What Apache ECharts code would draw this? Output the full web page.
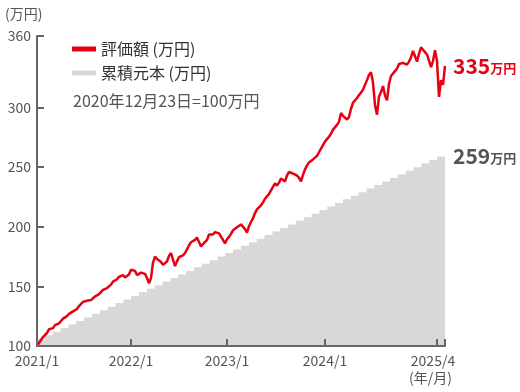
<!DOCTYPE html>
<html><head><meta charset="utf-8">
<script src="https://cdn.jsdelivr.net/npm/echarts@6/dist/echarts.min.js"></script>
<style>html,body{margin:0;padding:0;background:#fff}#c{width:520px;height:392px}</style>
</head><body><div id="c"></div>
<script>
// 評価額 (万円) — sampled along the x axis, index 0 = 2021/1 start, last index = 2025/4 end
const valuation = [
100,102.5,105,107.5,107,111,114,113,115,117.5,
116.5,119,121,123,122.5,125,127,126.5,129,130.5,
131,133.5,134,137,136,138,139.5,138.5,140,141.5,
140.5,143.5,145,147,146,148.5,148,151.5,154,155.5,
156,158,158.5,159.5,157.5,157,160,164,165.5,163,
159.5,160,161.5,162.5,160.5,157,152.5,157,170,175,
173,172.5,170.5,168,167,171,175.5,178,178.5,167,
171,174.5,175.5,176,178,181,184.5,187,186.5,189,
191,189.5,183.5,185.5,186.5,189,193.5,194.5,193.5,195.5,
196,194.5,193.5,189,186,189.5,191.5,194,197,198.5,
199.5,201,202,203,198,195,200.5,204,207,211.5,
214.5,215.5,218,220.5,223.5,225.5,227.5,230.5,233.5,236.5,
234.5,237,240.5,239,238,243,246,245.5,244.5,245.5,
243,241,238,243.5,248,251.5,254,255,256.5,257.5,
259.5,262.5,265.5,268.5,271.5,273.5,275.5,278,281.5,283,
285.5,288,295.5,293,291.5,290,292,299,304,306,
308,310.5,312.5,315,319,323,327.5,329.5,321,302,
294,309,313,318,310,306,320,326.5,328,330.5,
332.5,336.5,336,337.5,338.5,336,338.5,342,347.5,343,
338.5,345,350.5,349,346.5,344.5,345.5,334,339,348,
339,309,323,319,335
];
// 累積元本 (万円) — monthly, 2020/12 … 2025/4
const principal = [
103,106,109,112,115,118,121,124,127,130,
133,136,139,142,145,148,151,154,157,160,
163,166,169,172,175,178,181,184,187,190,
193,196,199,202,205,208,211,214,217,220,
223,226,229,232,235,238,241,244,247,250,
253,256,259
];
const principalMonths = ['2020/12','2021/1','2021/2','2021/3','2021/4','2021/5','2021/6','2021/7','2021/8','2021/9','2021/10','2021/11','2021/12',
'2022/1','2022/2','2022/3','2022/4','2022/5','2022/6','2022/7','2022/8','2022/9','2022/10','2022/11','2022/12',
'2023/1','2023/2','2023/3','2023/4','2023/5','2023/6','2023/7','2023/8','2023/9','2023/10','2023/11','2023/12',
'2024/1','2024/2','2024/3','2024/4','2024/5','2024/6','2024/7','2024/8','2024/9','2024/10','2024/11','2024/12',
'2025/1','2025/2','2025/3','2025/4'];
const xTickLabels = ['2021/1','2022/1','2023/1','2024/1','2025/4'];
const xLabelIndex = [0,47,95,144,198];
const xTickIndex = [0,47,95,144,200,204];
const yTicks = [100,150,200,250,300,360];
const seriesNames = ['評価額 (万円)','累積元本 (万円)'];

const FONT = "'Noto Sans CJK JP','Noto Sans',sans-serif";
const cats = valuation.map((_, i) => String(i));
const chart = echarts.init(document.getElementById('c'), null, {renderer:'canvas'});
chart.setOption({
  animation:false,
  textStyle:{fontFamily:FONT},
  grid:{left:37, top:36, width:408, height:310},
  legend:{
    orient:'vertical', left:72, top:41, padding:0, itemWidth:24, itemHeight:5, itemGap:8,
    icon:'rect', data:seriesNames,
    textStyle:{fontSize:16, color:'#333', fontFamily:FONT}
  },
  xAxis:[{
    type:'category', data:cats, boundaryGap:false, z:5,
    axisLine:{lineStyle:{color:'#666', width:2}},
    axisTick:{inside:true, length:7, lineStyle:{color:'#666', width:2},
      interval:(i)=>xTickIndex.includes(i)},
    axisLabel:{interval:(i)=>xLabelIndex.includes(i), color:'#555', fontSize:14, margin:8,
      fontFamily:FONT,
      formatter:(v,i)=>{const k=xLabelIndex.indexOf(i);return k>=0?xTickLabels[k]:'';}},
    splitLine:{show:false}
  },{
    type:'category', data:principalMonths, boundaryGap:false, show:false
  }],
  yAxis:{
    type:'value', min:100, max:360, z:5,
    axisLine:{show:true, lineStyle:{color:'#666', width:2}},
    axisTick:{show:true, inside:true, length:7, lineStyle:{color:'#666', width:2}, customValues:yTicks},
    axisLabel:{color:'#555', fontSize:14, margin:6, customValues:yTicks, fontFamily:FONT},
    splitLine:{show:false}
  },
  series:[{
    name:seriesNames[1], type:'line', xAxisIndex:1, step:'start', data:principal,
    symbol:'none', itemStyle:{color:'#d8d8d8'},
    lineStyle:{width:0, color:'#d8d8d8'},
    areaStyle:{color:'#d8d8d8', origin:'start', opacity:1},
    endLabel:{show:true, distance:8,
      formatter:(p)=>'{n|'+p.value+'}{u|万円}',
      rich:{n:{fontSize:21, fontWeight:'bold', color:'#555', fontFamily:FONT},
            u:{fontSize:13, fontWeight:'bold', color:'#555', fontFamily:FONT, padding:[4,0,0,0]}}}
  },{
    name:seriesNames[0], type:'line', xAxisIndex:0, data:valuation,
    symbol:'none', itemStyle:{color:'#e60012'},
    lineStyle:{width:2.5, color:'#e60012'},
    endLabel:{show:true, distance:8,
      formatter:(p)=>'{n|'+p.value+'}{u|万円}',
      rich:{n:{fontSize:21, fontWeight:'bold', color:'#e60012', fontFamily:FONT},
            u:{fontSize:13, fontWeight:'bold', color:'#e60012', fontFamily:FONT, padding:[4,0,0,0]}}}
  }],
  graphic:[
    {type:'text', left:5, top:7, style:{text:'(万円)', fontSize:14, fill:'#555', fontFamily:FONT}},
    {type:'text', left:73, top:93, style:{text:'2020年12月23日=100万円', fontSize:16, fill:'#555', fontFamily:FONT}},
    {type:'text', left:409, top:371, style:{text:'(年/月)', fontSize:14, fill:'#555', fontFamily:FONT}}
  ]
});
</script></body></html>
